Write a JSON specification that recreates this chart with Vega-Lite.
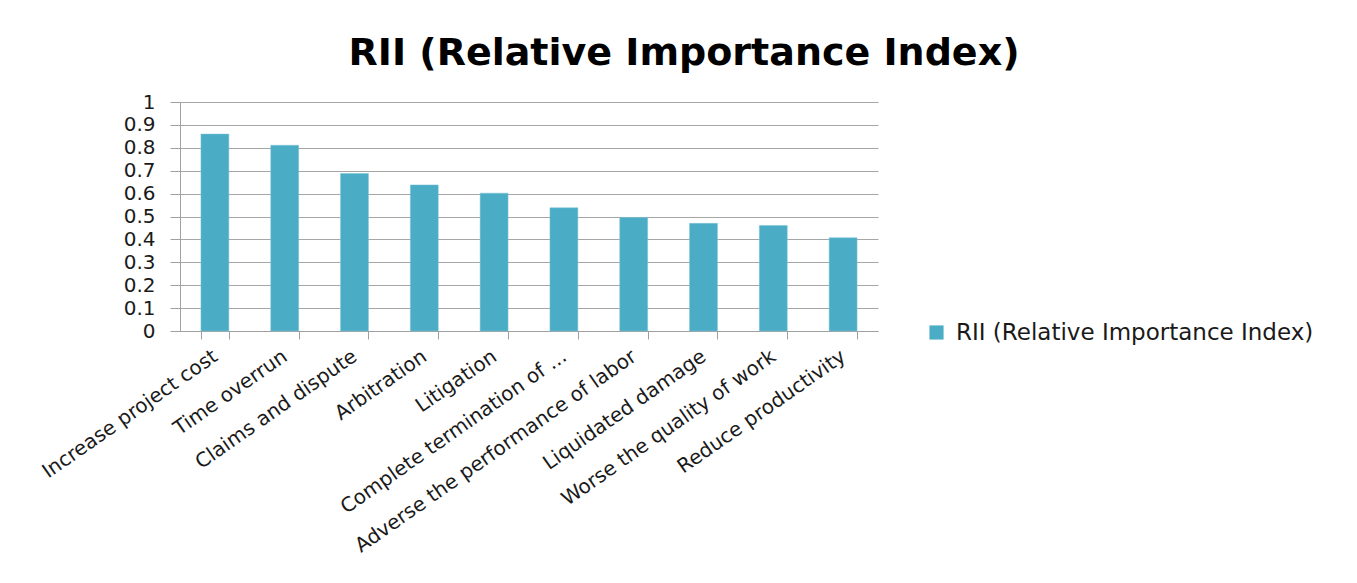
{
  "$schema": "https://vega.github.io/schema/vega-lite/v6.json",
  "autosize": {"type": "none"},
  "width": 698,
  "height": 229,
  "padding": {"left": 180, "top": 102, "right": 479, "bottom": 252},
  "background": "white",
  "title": {
    "text": "RII (Relative Importance Index)",
    "font": "DejaVu Sans",
    "fontSize": 38,
    "fontWeight": "bold",
    "color": "#000000",
    "anchor": "middle",
    "frame": "group",
    "dx": 155,
    "offset": 19
  },
  "data": {
    "values": [
      {"factor": "Increase project cost", "rii": 0.86, "series": "RII (Relative Importance Index)"},
      {"factor": "Time overrun", "rii": 0.811, "series": "RII (Relative Importance Index)"},
      {"factor": "Claims and dispute", "rii": 0.688, "series": "RII (Relative Importance Index)"},
      {"factor": "Arbitration", "rii": 0.638, "series": "RII (Relative Importance Index)"},
      {"factor": "Litigation", "rii": 0.602, "series": "RII (Relative Importance Index)"},
      {"factor": "Complete termination of ...", "rii": 0.538, "series": "RII (Relative Importance Index)"},
      {"factor": "Adverse the performance of labor", "rii": 0.496, "series": "RII (Relative Importance Index)"},
      {"factor": "Liquidated damage", "rii": 0.47, "series": "RII (Relative Importance Index)"},
      {"factor": "Worse the quality of work", "rii": 0.461, "series": "RII (Relative Importance Index)"},
      {"factor": "Reduce productivity", "rii": 0.407, "series": "RII (Relative Importance Index)"}
    ]
  },
  "mark": {"type": "bar", "stroke": "#7fc4d6", "strokeWidth": 0.5},
  "encoding": {
    "x": {
      "field": "factor",
      "type": "nominal",
      "sort": null,
      "scale": {"paddingInner": 0.6, "paddingOuter": 0.3},
      "axis": {
        "title": null,
        "labelAngle": -35,
        "labelAlign": "right",
        "labelBaseline": "middle",
        "labelFont": "DejaVu Sans",
        "labelFontSize": 20,
        "labelColor": "#1a1a1a",
        "labelPadding": 15,
        "labelLimit": 440,
        "tickBand": "extent",
        "tickSize": 8,
        "tickColor": "#a0a0a0",
        "domainColor": "#a0a0a0",
        "grid": false
      }
    },
    "y": {
      "field": "rii",
      "type": "quantitative",
      "scale": {"domain": [0, 1], "nice": false},
      "axis": {
        "title": null,
        "values": [0, 0.1, 0.2, 0.3, 0.4, 0.5, 0.6, 0.7, 0.8, 0.9, 1],
        "format": ".1~f",
        "labelFont": "DejaVu Sans",
        "labelFontSize": 20,
        "labelColor": "#1a1a1a",
        "labelPadding": 15,
        "tickSize": 10,
        "tickColor": "#a0a0a0",
        "domainColor": "#a0a0a0",
        "grid": true,
        "gridColor": "#a6a6a6",
        "gridWidth": 1
      }
    },
    "color": {
      "field": "series",
      "type": "nominal",
      "scale": {"range": ["#4bacc6"]},
      "legend": {
        "title": null,
        "orient": "none",
        "legendX": 745,
        "legendY": 219,
        "symbolType": "square",
        "symbolSize": 200,
        "symbolStrokeWidth": 0,
        "labelFont": "DejaVu Sans",
        "labelFontSize": 23,
        "labelColor": "#1a1a1a",
        "labelLimit": 500,
        "labelOffset": 8
      }
    }
  },
  "config": {
    "view": {"stroke": null}
  }
}
